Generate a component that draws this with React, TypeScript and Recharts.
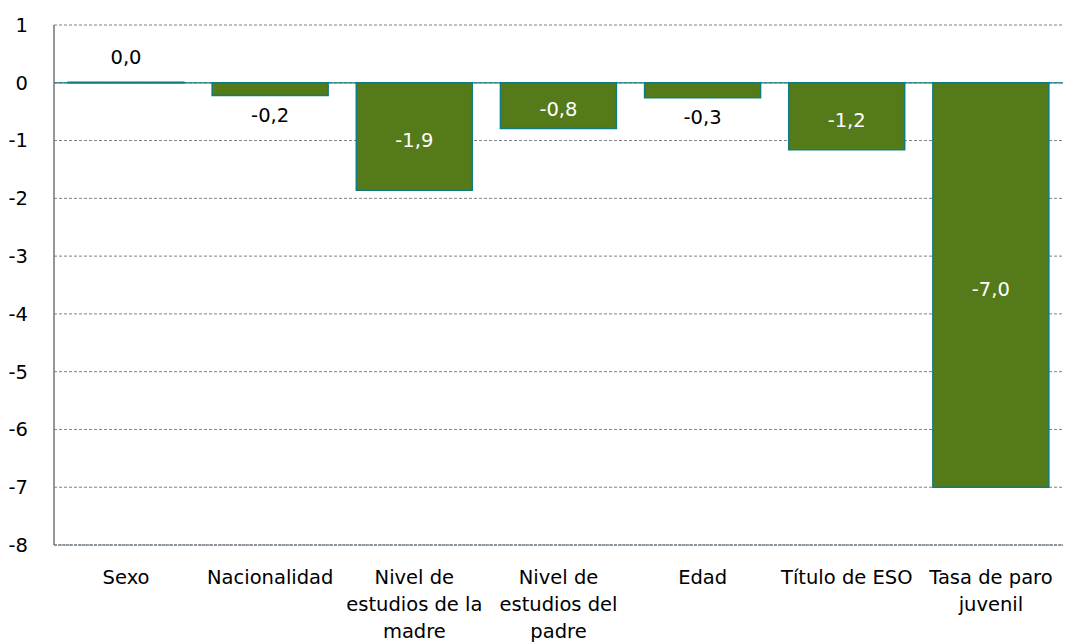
import { BarChart, Bar, XAxis, YAxis, CartesianGrid, ReferenceLine, LabelList } from 'recharts';

const categorias = [
  ['Sexo'],
  ['Nacionalidad'],
  ['Nivel de', 'estudios de la', 'madre'],
  ['Nivel de', 'estudios del', 'padre'],
  ['Edad'],
  ['Título de ESO'],
  ['Tasa de paro', 'juvenil'],
];
const valores = [0.01, -0.22, -1.86, -0.79, -0.26, -1.16, -7.0];
const yTicks = [1, 0, -1, -2, -3, -4, -5, -6, -7, -8];

const FONT = '"DejaVu Sans", Verdana, sans-serif';
const VERDE = '#557a1a';
const TEAL = '#0f7d7c';

const data = categorias.map((lines, i) => ({ name: lines.join(' '), lines, value: valores[i] }));

const fmt = (v: number) => v.toFixed(1).replace('.', ',');

function CatTick(props: any) {
  const { x, payload } = props;
  const lines = data[payload.index]?.lines ?? [payload.value];
  return (
    <text x={x} y={545} textAnchor="middle" fontFamily={FONT} fontSize={19.5} fill="#000">
      {lines.map((l: string, i: number) => (
        <tspan key={i} x={x} dy={i === 0 ? 39 : 27}>{l}</tspan>
      ))}
    </text>
  );
}

function ValueLabel(props: any) {
  const { x, y, width, height, value } = props;
  const top = Math.min(y, y + height);
  const bottom = Math.max(y, y + height);
  const cx = x + width / 2;
  const v = Number(value);
  let cy: number;
  let fill = '#000';
  if (Math.abs(v) < 0.5) {
    cy = v >= 0 ? top - 25 : bottom + 20;
  } else {
    cy = (top + bottom) / 2 + 4;
    fill = '#fff';
  }
  return (
    <text x={cx} y={cy} textAnchor="middle" dominantBaseline="central" fontFamily={FONT} fontSize={19.5} fill={fill}>
      {fmt(v)}
    </text>
  );
}

export default function App() {
  return (
    <div style={{ position: 'absolute', left: 0, top: 0, background: '#fff' }}>
      <BarChart
        width={1071}
        height={642}
        data={data}
        margin={{ top: 25, right: 8, bottom: 0, left: 0 }}
        barSize={116}
      >
        <CartesianGrid vertical={false} stroke="#7a828a" strokeDasharray="3 2" />
        <XAxis
          dataKey="name"
          height={97}
          tickLine={false}
          axisLine={{ stroke: '#7a828a', strokeWidth: 1.5, strokeDasharray: '3 1' }}
          tick={<CatTick />}
          interval={0}
        />
        <YAxis
          width={54}
          domain={[-8, 1]}
          ticks={yTicks}
          interval={0}
          tickLine={false}
          axisLine={{ stroke: '#6c757d', strokeWidth: 1.5 }}
          tickMargin={20}
          tick={{ fontFamily: FONT, fontSize: 19.5, fill: '#000' }}
        />
        <Bar dataKey="value" fill={VERDE} stroke={TEAL} strokeWidth={1.5} isAnimationActive={false}>
          <LabelList dataKey="value" content={<ValueLabel />} />
        </Bar>
        <ReferenceLine y={0} stroke={TEAL} strokeWidth={1.2} />
      </BarChart>
    </div>
  );
}
